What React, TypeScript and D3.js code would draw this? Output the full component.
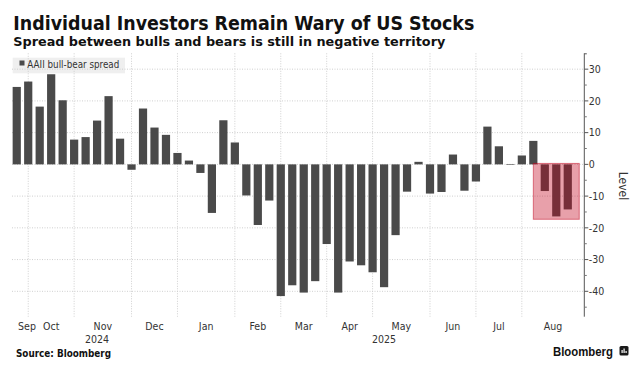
import React, { useEffect, useRef } from "react"
import * as d3 from "d3"

// weekly AAII readings (week ending Friday)
const dates = [
  "2024-09-27",
  "2024-10-04", "2024-10-11", "2024-10-18", "2024-10-25",
  "2024-11-01", "2024-11-08", "2024-11-15", "2024-11-22", "2024-11-29",
  "2024-12-06", "2024-12-13", "2024-12-20", "2024-12-27",
  "2025-01-03", "2025-01-10", "2025-01-17", "2025-01-24", "2025-01-31",
  "2025-02-07", "2025-02-14", "2025-02-21", "2025-02-28",
  "2025-03-07", "2025-03-14", "2025-03-21", "2025-03-28",
  "2025-04-04", "2025-04-11", "2025-04-18", "2025-04-25",
  "2025-05-02", "2025-05-09", "2025-05-16", "2025-05-23", "2025-05-30",
  "2025-06-06", "2025-06-13", "2025-06-20", "2025-06-27",
  "2025-07-04", "2025-07-11", "2025-07-18", "2025-07-25",
  "2025-08-01", "2025-08-08", "2025-08-15", "2025-08-22", "2025-08-29",
]

const spread = [
  24.4,
  26.1, 18.2, 28.4, 20.2,
  7.8, 8.6, 13.8, 21.5, 8.1,
  -1.7, 17.6, 11.6, 9.3,
  3.6, 1.2, -2.7, -15.3, 13.9,
  6.9, -9.8, -19.1, -11.4,
  -41.5, -38.1, -40.4, -36.8,
  -25.1, -40.4, -30.6, -31.8,
  -34.0, -38.7, -22.3, -8.6, 0.8,
  -9.2, -8.7, 3.1, -8.3,
  -5.4, 11.9, 5.7, 0.1,
  2.8, 7.4, -8.4, -16.4, -14.2,
]

const monthLabels = ["Sep", "Oct", "Nov", "Dec", "Jan", "Feb", "Mar", "Apr", "May", "Jun", "Jul", "Aug"]
const yearLabels = ["2024", "2025"]
const yearAnchors = ["2024-11-15", "2025-05-09"]
const yTicks = [30, 20, 10, 0, -10, -20, -30, -40]
const yMinorTicks = [35, 25, 15, 5, -5, -15, -25, -35, -45]

// shaded box over the latest readings
const highlightDates = ["2025-08-08", "2025-08-29"]
const highlightLevels = [0.3, -17.3]

const W = 635
const H = 374
const FONT = "'DejaVu Sans Condensed', 'DejaVu Sans', sans-serif"

const App = () => {
  const ref = useRef<SVGSVGElement>(null)

  useEffect(() => {
    const svg = d3.select(ref.current)
    svg.selectAll("*").remove()

    const left = 12
    const right = 584.3
    const top = 53.3
    const bottom = 316.7

    const x = d3
      .scaleBand()
      .domain(dates)
      .range([11, 573.5])
      .paddingInner(0.285)
      .paddingOuter(0.1425)
    const y = d3.scaleLinear().domain([-48, 35]).range([bottom, top])
    const cx = (d) => x(d) + x.bandwidth() / 2

    // title
    svg
      .append("text")
      .attr("x", 13.3)
      .attr("y", 30)
      .attr("textLength", 461)
      .attr("lengthAdjust", "spacingAndGlyphs")
      .style("font-family", FONT)
      .style("font-weight", "bold")
      .style("font-size", "19px")
      .style("fill", "#111")
      .text("Individual Investors Remain Wary of US Stocks")

    svg
      .append("text")
      .attr("x", 13.3)
      .attr("y", 45.7)
      .attr("textLength", 432)
      .attr("lengthAdjust", "spacingAndGlyphs")
      .style("font-family", FONT)
      .style("font-weight", "bold")
      .style("font-size", "13px")
      .style("fill", "#111")
      .text("Spread between bulls and bears is still in negative territory")

    // legend background
    svg
      .append("rect")
      .attr("x", 12.7)
      .attr("y", 57.7)
      .attr("width", 112.3)
      .attr("height", 15.6)
      .attr("fill", "#efefef")

    // gridlines
    const monthStarts = dates.filter((d, i) => i > 0 && d.slice(5, 7) !== dates[i - 1].slice(5, 7))

    svg
      .append("g")
      .selectAll("line")
      .data(yTicks)
      .join("line")
      .attr("x1", left)
      .attr("x2", right)
      .attr("y1", (d) => y(d))
      .attr("y2", (d) => y(d))
      .attr("stroke", "#cfcfcf")
      .attr("stroke-dasharray", "1,1.5")

    svg
      .append("g")
      .selectAll("line")
      .data(monthStarts)
      .join("line")
      .attr("x1", (d) => cx(d))
      .attr("x2", (d) => cx(d))
      .attr("y1", top)
      .attr("y2", bottom)
      .attr("stroke", "#cfcfcf")
      .attr("stroke-dasharray", "1,1.5")

    // legend
    svg
      .append("rect")
      .attr("x", 19.5)
      .attr("y", 60.5)
      .attr("width", 5)
      .attr("height", 5)
      .attr("fill", "#4a4a4a")
    svg
      .append("text")
      .attr("x", 27.3)
      .attr("y", 67.5)
      .attr("textLength", 92)
      .attr("lengthAdjust", "spacingAndGlyphs")
      .style("font-family", FONT)
      .style("font-size", "10px")
      .style("fill", "#333")
      .text("AAII bull-bear spread")

    // bars
    svg
      .append("g")
      .selectAll("rect")
      .data(dates)
      .join("rect")
      .attr("x", (d) => x(d))
      .attr("width", x.bandwidth())
      .attr("y", (d, i) => y(Math.max(0, spread[i])))
      .attr("height", (d, i) => Math.max(0.6, Math.abs(y(spread[i]) - y(0))))
      .attr("fill", "#4a4a4a")

    // highlight box
    const hx0 = cx(highlightDates[0])
    const hx1 = cx(highlightDates[1]) + x.step()
    svg
      .append("rect")
      .attr("x", hx0)
      .attr("y", y(highlightLevels[0]))
      .attr("width", hx1 - hx0)
      .attr("height", y(highlightLevels[1]) - y(highlightLevels[0]))
      .attr("fill", "rgba(195,6,32,0.38)")
      .attr("stroke", "rgba(195,6,32,0.5)")
      .attr("stroke-width", 1)

    // right axis
    const axis = svg.append("g")
    axis
      .append("line")
      .attr("x1", right)
      .attr("x2", right)
      .attr("y1", top)
      .attr("y2", bottom)
      .attr("stroke", "#555")
    axis
      .append("line")
      .attr("x1", right)
      .attr("x2", right + 2.5)
      .attr("y1", top + 0.5)
      .attr("y2", top + 0.5)
      .attr("stroke", "#555")
    axis
      .selectAll(".major")
      .data(yTicks)
      .join("line")
      .attr("class", "major")
      .attr("x1", right)
      .attr("x2", right + 4)
      .attr("y1", (d) => y(d))
      .attr("y2", (d) => y(d))
      .attr("stroke", "#555")
    axis
      .selectAll(".minor")
      .data(yMinorTicks.filter((d) => y(d) > top + 2 && y(d) < bottom))
      .join("line")
      .attr("class", "minor")
      .attr("x1", right)
      .attr("x2", right + 2.5)
      .attr("y1", (d) => y(d))
      .attr("y2", (d) => y(d))
      .attr("stroke", "#777")
    axis
      .selectAll("text")
      .data(yTicks)
      .join("text")
      .attr("x", right + 4.5)
      .attr("y", (d) => y(d))
      .attr("dy", "0.36em")
      .style("font-family", FONT)
      .style("font-size", "10.5px")
      .style("fill", "#333")
      .text((d) => (d < 0 ? "-" + Math.abs(d) : String(d)))

    svg
      .append("text")
      .attr("transform", `translate(619, 186) rotate(90)`)
      .attr("text-anchor", "middle")
      .style("font-family", FONT)
      .style("font-size", "12px")
      .style("fill", "#333")
      .text("Level")

    // month labels centred between month starts
    const bounds = [left, ...monthStarts.map(cx), right]
    svg
      .append("g")
      .selectAll("text")
      .data(monthLabels)
      .join("text")
      .attr("x", (d, i) => Math.max((bounds[i] + bounds[i + 1]) / 2, 27))
      .attr("y", 330)
      .attr("text-anchor", "middle")
      .style("font-family", FONT)
      .style("font-size", "10.5px")
      .style("fill", "#333")
      .text((d) => d)

    svg
      .append("g")
      .selectAll("text")
      .data(yearLabels)
      .join("text")
      .attr("x", (d, i) => cx(yearAnchors[i]))
      .attr("y", 343.3)
      .attr("text-anchor", "middle")
      .style("font-family", FONT)
      .style("font-size", "10.5px")
      .style("fill", "#333")
      .text((d) => d)

    // footer
    svg
      .append("text")
      .attr("x", 16)
      .attr("y", 357)
      .attr("textLength", 95)
      .attr("lengthAdjust", "spacingAndGlyphs")
      .style("font-family", FONT)
      .style("font-weight", "bold")
      .style("font-size", "10px")
      .style("fill", "#111")
      .text("Source: Bloomberg")

    svg
      .append("text")
      .attr("x", 553)
      .attr("y", 355.7)
      .attr("textLength", 60)
      .attr("lengthAdjust", "spacingAndGlyphs")
      .style("font-family", "'Liberation Sans', Arial, sans-serif")
      .style("font-weight", "bold")
      .style("font-size", "12.5px")
      .style("fill", "#111")
      .text("Bloomberg")

    const logo = svg.append("g").attr("transform", "translate(619.5, 346)")
    logo.append("rect").attr("width", 9).attr("height", 9.5).attr("rx", 1.5).attr("fill", "#1a1a1a")
    logo
      .selectAll(".b")
      .data([[2, 4], [4, 2.5], [6, 5]])
      .join("rect")
      .attr("class", "b")
      .attr("x", (d) => d[0])
      .attr("y", (d) => d[1])
      .attr("width", 1.2)
      .attr("height", (d) => 7 - d[1])
      .attr("fill", "#fff")
  }, [])

  return (
    <svg
      ref={ref}
      width={W}
      height={H}
      style={{ position: "absolute", left: 0, top: 0, background: "#fff" }}
    ></svg>
  )
}

export default App
